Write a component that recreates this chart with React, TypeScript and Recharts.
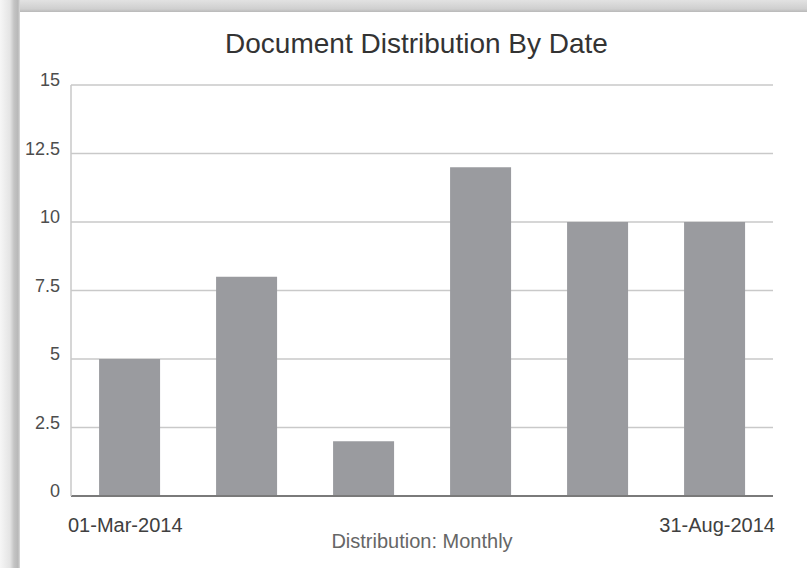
import { BarChart, Bar, XAxis, YAxis, CartesianGrid } from 'recharts';

// monthly document counts
const months = ['Mar-2014', 'Apr-2014', 'May-2014', 'Jun-2014', 'Jul-2014', 'Aug-2014'];
const documentCounts = [5, 8, 2, 12, 10, 10];
const yTicks = [0, 2.5, 5, 7.5, 10, 12.5, 15];
const rangeStart = '01-Mar-2014';
const rangeEnd = '31-Aug-2014';

const title = 'Document Distribution By Date';
const axisTitle = 'Distribution: Monthly';

const data = months.map((month, i) => ({ month, count: documentCounts[i] }));

const FONT = '"Liberation Sans", Arial, Helvetica, sans-serif';
const W = 807;
const H = 568;
const PLOT_LEFT = 71;
const PLOT_RIGHT = 773;
const BAND = (PLOT_RIGHT - PLOT_LEFT) / months.length;

const YTick = (props: any) => {
  const { x, y, payload } = props;
  return (
    <text x={x} y={y} dy={1} textAnchor="end" fill="#4d4d4d" fontSize={18} fontFamily={FONT}>
      {payload.value}
    </text>
  );
};

const XTick = (props: any) => {
  const { x, y, index } = props;
  if (index === 0) {
    return (
      <text x={x - BAND / 2 - 3} y={y} dy={36} textAnchor="start" fill="#404040" fontSize={20} fontFamily={FONT}>
        {rangeStart}
      </text>
    );
  }
  if (index === months.length - 1) {
    return (
      <text x={x + BAND / 2 + 2} y={y} dy={36} textAnchor="end" fill="#404040" fontSize={20} fontFamily={FONT}>
        {rangeEnd}
      </text>
    );
  }
  return <g />;
};

export default function App() {
  return (
    <div style={{ position: 'absolute', left: 0, top: 0, width: W, height: H, background: '#fff', overflow: 'hidden' }}>
      {/* frame */}
      <div
        style={{
          position: 'absolute', left: 0, top: 0, width: W, height: 12,
          background: 'linear-gradient(to bottom, #e2e2e2, #cfcfcf 75%, #b8b8b8)',
        }}
      />
      <div
        style={{
          position: 'absolute', left: 0, top: 0, width: 20, height: H,
          background: 'linear-gradient(to right, #f6f6f6, #e4e4e4 50%, #c4c4c4 70%, #b8b8b8 90%, #dcdcdc)',
        }}
      />
      <div
        style={{
          position: 'absolute', left: 0, top: 28, width: W, textAlign: 'center',
          paddingLeft: 26, boxSizing: 'border-box',
          fontFamily: FONT, fontSize: 28, color: '#333',
        }}
      >
        {title}
      </div>
      <div style={{ position: 'absolute', left: 0, top: 0 }}>
        <BarChart
          width={W}
          height={H}
          data={data}
          margin={{ top: 85, right: W - PLOT_RIGHT, bottom: 20, left: 12 }}
          barCategoryGap="24%"
        >
          <CartesianGrid vertical={false} stroke="#c9c9c9" strokeWidth={1.5} />
          <XAxis
            dataKey="month"
            height={52}
            interval={0}
            tickLine={false}
            tickSize={0}
            tickMargin={0}
            axisLine={{ stroke: '#7a7a7a', strokeWidth: 2 }}
            tick={<XTick />}
            label={{ value: axisTitle, position: 'insideBottom', offset: 0, fill: '#666', fontSize: 20, fontFamily: FONT }}
          />
          <YAxis
            width={PLOT_LEFT - 12}
            domain={[0, 15]}
            ticks={yTicks}
            interval={0}
            tickLine={false}
            tickSize={0}
            tickMargin={11}
            axisLine={{ stroke: '#c9c9c9', strokeWidth: 1.5 }}
            tick={<YTick />}
          />
          <Bar dataKey="count" fill="#9a9b9f" isAnimationActive={false} />
        </BarChart>
      </div>
    </div>
  );
}
